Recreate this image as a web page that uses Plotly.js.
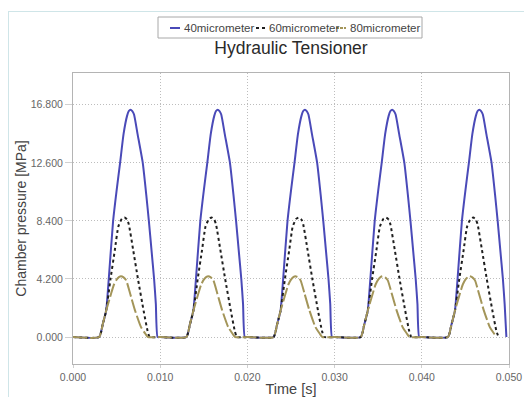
<!DOCTYPE html>
<html>
<head>
<meta charset="utf-8">
<script src="https://cdn.plot.ly/plotly-3.0.1.min.js"></script>
<style>
  html, body { margin: 0; padding: 0; background: #ffffff; }
  #frame { position: absolute; left: 8px; top: 11px; width: 600px; height: 500px;
           border-left: 1px solid #cfe5e8; border-top: 1px solid #cfe5e8; pointer-events: none; }
  #chart { position: absolute; left: 0; top: 0; width: 524px; height: 397px; }
</style>
</head>
<body>
<div id="chart"></div>
<div id="frame"></div>
<script>
// ---- data (one pressure pulse per 0.010 s cycle) ----
const seriesNames = ["40micrometer", "60micrometer", "80micrometer"];
const cycleStarts = [0.000, 0.010, 0.020, 0.030, 0.040];

// time within a cycle [s] and chamber pressure [MPa]
const t40 = [0, 0.0030, 0.0034, 0.0038, 0.0041, 0.0046, 0.0050, 0.0054, 0.0058, 0.0062, 0.0064, 0.0066, 0.0068, 0.0070, 0.0074, 0.0080, 0.0084, 0.0087, 0.0090, 0.0093, 0.0095, 0.0097];
const p40 = [0, 0,      0.9,    1.9,    4.2,    8.4,    10.6,   12.6,   14.7,   16.0,   16.35,  16.45,  16.35,  16.1,   14.7,   12.6,   10.3,   8.4,    6.3,    4.2,    2.4,    0];

const t60 = [0, 0.0030, 0.0034, 0.0038, 0.0043, 0.0048, 0.0052, 0.0056, 0.0059, 0.0062, 0.0064, 0.0069, 0.00745, 0.0081, 0.00855, 0.0088];
const p60 = [0, 0,      0.9,    1.9,    4.2,    6.3,    8.0,    8.55,   8.65,   8.5,    8.15,   6.3,    4.2,     1.9,    0.45,    0];

const t80 = [0, 0.0030, 0.0034, 0.0038, 0.00435, 0.0047, 0.0050, 0.0053, 0.0055, 0.0058, 0.0061, 0.00655, 0.0071, 0.0078, 0.0083, 0.0086];
const p80 = [0, 0,      0.9,    1.9,    3.1,     3.8,    4.15,   4.35,   4.4,    4.32,   4.1,    3.15,    1.95,   0.72,   0.24,   0];

const xTicks = [0.000, 0.010, 0.020, 0.030, 0.040, 0.050];
const yTicks = [0.0, 4.2, 8.4, 12.6, 16.8];

// ---- build the full 5-cycle series from the per-cycle readings ----
function buildSeries(tc, pc) {
  const x = [], y = [];
  cycleStarts.forEach(s => {
    tc.forEach((t, i) => { x.push(+(s + t).toFixed(6)); y.push(pc[i]); });
  });
  return { x, y };
}
const s40 = buildSeries(t40, p40);
const s60 = buildSeries(t60, p60);
const s80 = buildSeries(t80, p80);

const colors = ["#4a4ab8", "#1e1e1e", "#a39559"];
const dashes = ["solid", "dot", "14px,3px"];

const traces = [
  { x: s40.x, y: s40.y, name: seriesNames[0], mode: "lines",
    line: { color: colors[0], width: 2, dash: dashes[0], shape: "spline", smoothing: 0.5 } },
  { x: s60.x, y: s60.y, name: seriesNames[1], mode: "lines",
    line: { color: colors[1], width: 2, dash: dashes[1], shape: "spline", smoothing: 0.5 } },
  { x: s80.x, y: s80.y, name: seriesNames[2], mode: "lines",
    line: { color: colors[2], width: 2, dash: dashes[2], shape: "spline", smoothing: 0.5 } }
];

// ---- custom compact legend (paper coordinates) ----
const L = 73, R = 509, T = 73, B = 364;
const px = v => (v - L) / (R - L);
const py = v => (B - v) / (B - T);
const legY = 28;
const legItems = [
  { x0: 170, x1: 180, tx: 182 },
  { x0: 256, x1: 265, tx: 267 },
  { x0: 336, x1: 346, tx: 348 }
];
const shapes = [
  { type: "rect", xref: "paper", yref: "paper", x0: px(158), x1: px(422), y0: py(38), y1: py(17),
    line: { color: "#a8a8a8", width: 1 }, fillcolor: "#ffffff" }
];
const annotations = [];
legItems.forEach((it, i) => {
  shapes.push({ type: "line", xref: "paper", yref: "paper", x0: px(it.x0), x1: px(it.x1), y0: py(legY), y1: py(legY),
    line: { color: colors[i], width: 2, dash: i === 1 ? "dot" : (i === 2 ? "3px,1px" : "solid") } });
  annotations.push({ xref: "paper", yref: "paper", x: px(it.tx), y: py(legY), xanchor: "left", yanchor: "middle",
    text: seriesNames[i], showarrow: false, font: { family: "Liberation Sans, Arial, sans-serif", size: 11.5, color: "#444" } });
});

const layout = {
  width: 524, height: 397,
  margin: { l: L, r: 524 - R, t: T, b: 397 - B, pad: 0 },
  paper_bgcolor: "#ffffff", plot_bgcolor: "#ffffff",
  showlegend: false,
  font: { family: "Liberation Sans, Arial, sans-serif", color: "#555" },
  title: { text: "Hydraulic Tensioner", x: 0.5, xref: "paper", y: 1 - 48 / 397, yref: "container",
           xanchor: "center", yanchor: "middle",
           font: { family: "Liberation Sans, Arial, sans-serif", size: 17.5, color: "#2a2a2a" } },
  xaxis: {
    range: [0, 0.050], tickvals: xTicks, tickformat: ".3f",
    showgrid: true, gridcolor: "#bdbdbd", griddash: "1px,2px", gridwidth: 1,
    zeroline: false, showline: true, linecolor: "#b4b4b4", mirror: true, linewidth: 1,
    ticks: "outside", ticklen: 3, tickcolor: "#d0d0d0",
    tickfont: { size: 10.5, color: "#666" },
    title: { text: "Time [s]", standoff: 2, font: { size: 14.5, color: "#444" } }
  },
  yaxis: {
    range: [-1.95, 19.1], tickvals: yTicks, tickformat: ".3f",
    showgrid: true, gridcolor: "#bdbdbd", griddash: "1px,2px", gridwidth: 1,
    zeroline: false, showline: true, linecolor: "#b4b4b4", mirror: true, linewidth: 1,
    ticks: "outside", ticklen: 7, tickcolor: "#d0d0d0",
    tickfont: { size: 10.5, color: "#666" },
    title: { text: "Chamber pressure [MPa]", standoff: 0, font: { size: 14, color: "#444" } }
  },
  shapes: shapes,
  annotations: annotations
};

Plotly.newPlot("chart", traces, layout, { displayModeBar: false, staticPlot: true });
</script>
</body>
</html>
